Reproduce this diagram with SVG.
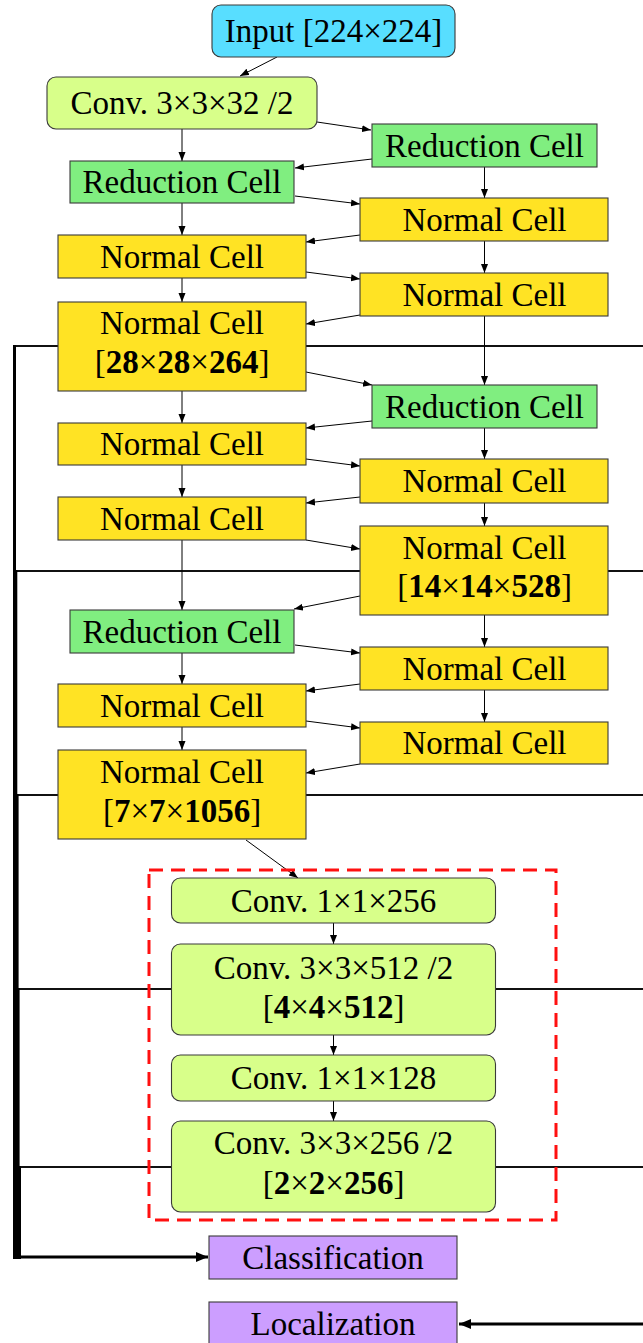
<svg xmlns="http://www.w3.org/2000/svg" width="643" height="1343" viewBox="0 0 643 1343">
  <style>
    .box { stroke: #3a3a3a; stroke-width: 1.1; }
    .inp { fill: #58DEFF; }
    .conv { fill: #D8FF8A; }
    .red { fill: #80EE80; }
    .nrm { fill: #FFE324; }
    .out { fill: #CC9EFF; }
    text { font-family: "Liberation Serif", "Times New Roman", serif; font-size: 33px; fill: #000; text-anchor: middle; }
    .b { font-weight: bold; }
    .edge { stroke: #000; stroke-width: 1; fill: none; marker-end: url(#arr); }
    .feat { stroke: #111; stroke-width: 2; fill: none; }
    .head { stroke: #000; stroke-width: 3.2; fill: none; marker-end: url(#bigarr); }
  </style>
  <defs>
    <marker id="arr" markerUnits="userSpaceOnUse" markerWidth="10" markerHeight="8" refX="9" refY="3.5" orient="auto">
      <path d="M0,0 L9,3.5 L0,7 z" fill="#000"/>
    </marker>
    <marker id="bigarr" markerUnits="userSpaceOnUse" markerWidth="14" markerHeight="12" refX="12" refY="5" orient="auto">
      <path d="M0,0 L12,5 L0,10 z" fill="#000"/>
    </marker>
  </defs>

  <rect width="643" height="1343" fill="#fff"/>

  <g id="connectors">
    <!-- feature-map taps: horizontal runs across the page -->
    <path class="feat" d="M643,346 H14"/>
    <path class="feat" d="M643,571 H15.5"/>
    <path class="feat" d="M643,795 H17"/>
    <path class="feat" d="M643,989 H18.5"/>
    <path class="feat" d="M643,1167 H20"/>
    <!-- bundled taps down the left edge, widening at each join -->
    <path fill="#000" d="M13,345 H16 V570 H17.3 V794 H18.6 V988 H19.6 V1166 H21 V1259 H13 z"/>
    <path class="head" d="M13,1257 H208"/>
    <path class="head" d="M643,1324 H459"/>

    <!-- stem -->
    <path class="edge" d="M277,57 L240,76"/>
    <path class="edge" d="M317,122 L371,130"/>
    <path class="edge" d="M182,129 V161"/>

    <!-- left column -->
    <path class="edge" d="M182,203 V235"/>
    <path class="edge" d="M182,278 V302"/>
    <path class="edge" d="M182,391 V423"/>
    <path class="edge" d="M182,465 V497"/>
    <path class="edge" d="M182,540 V610"/>
    <path class="edge" d="M182,653 V684"/>
    <path class="edge" d="M182,727 V750"/>

    <!-- right column -->
    <path class="edge" d="M484.5,167 V198"/>
    <path class="edge" d="M484.5,241 V273"/>
    <path class="edge" d="M484.5,316 V385"/>
    <path class="edge" d="M484.5,428 V459"/>
    <path class="edge" d="M484.5,503 V526"/>
    <path class="edge" d="M484.5,615 V647"/>
    <path class="edge" d="M484.5,690 V722"/>

    <!-- cross links -->
    <path class="edge" d="M372,159 L295,168"/>
    <path class="edge" d="M295,196 L360,204"/>
    <path class="edge" d="M360,235 L306,242"/>
    <path class="edge" d="M306,272 L360,279"/>
    <path class="edge" d="M360,315 L306,324"/>
    <path class="edge" d="M306,372 L372,385"/>
    <path class="edge" d="M372,421 L306,428"/>
    <path class="edge" d="M306,459 L360,466"/>
    <path class="edge" d="M360,497 L306,503"/>
    <path class="edge" d="M306,540 L360,549"/>
    <path class="edge" d="M360,596 L294,609"/>
    <path class="edge" d="M295,645 L360,653"/>
    <path class="edge" d="M360,684 L306,691"/>
    <path class="edge" d="M306,721 L360,728"/>
    <path class="edge" d="M360,764 L306,773"/>

    <!-- extra layers -->
    <path class="edge" d="M246,840 L298,878"/>
    <path class="edge" d="M333.5,923 V944"/>
    <path class="edge" d="M333.5,1035 V1055"/>
    <path class="edge" d="M333.5,1101 V1121"/>
  </g>

  <rect id="extra-layers-frame" x="149" y="870" width="407" height="350" fill="none" stroke="#FF1010" stroke-width="3" stroke-dasharray="14 8"/>

  <g id="input"><rect class="box inp" x="212" y="5" width="243" height="52" rx="9"/><text x="333.5" y="42">Input [224×224]</text></g>
  <g id="conv0"><rect class="box conv" x="47" y="77" width="270" height="52" rx="9"/><text x="182" y="114">Conv. 3×3×32 /2</text></g>

  <g id="r1"><rect class="box red" x="372" y="124" width="225" height="43"/><text x="484.5" y="157">Reduction Cell</text></g>
  <g id="l1"><rect class="box red" x="70" y="161" width="224" height="42"/><text x="182" y="193">Reduction Cell</text></g>
  <g id="r2"><rect class="box nrm" x="360" y="198" width="248" height="43"/><text x="484.5" y="231">Normal Cell</text></g>
  <g id="l2"><rect class="box nrm" x="58" y="235" width="248" height="43"/><text x="182" y="268">Normal Cell</text></g>
  <g id="r3"><rect class="box nrm" x="360" y="273" width="248" height="43"/><text x="484.5" y="306">Normal Cell</text></g>
  <g id="l3"><rect class="box nrm" x="58" y="302" width="248" height="89"/><text x="182" y="334">Normal Cell</text><text x="182" y="373">[<tspan class="b">28</tspan>×<tspan class="b">28</tspan>×<tspan class="b">264</tspan>]</text></g>

  <g id="r4"><rect class="box red" x="372" y="385" width="225" height="43"/><text x="484.5" y="418">Reduction Cell</text></g>
  <g id="l4"><rect class="box nrm" x="58" y="423" width="248" height="42"/><text x="182" y="455">Normal Cell</text></g>
  <g id="r5"><rect class="box nrm" x="360" y="459" width="248" height="44"/><text x="484.5" y="492">Normal Cell</text></g>
  <g id="l5"><rect class="box nrm" x="58" y="497" width="248" height="43"/><text x="182" y="530">Normal Cell</text></g>
  <g id="r6"><rect class="box nrm" x="360" y="526" width="248" height="89"/><text x="484.5" y="559">Normal Cell</text><text x="484.5" y="597">[<tspan class="b">14</tspan>×<tspan class="b">14</tspan>×<tspan class="b">528</tspan>]</text></g>

  <g id="l6"><rect class="box red" x="70" y="610" width="224" height="43"/><text x="182" y="643">Reduction Cell</text></g>
  <g id="r7"><rect class="box nrm" x="360" y="647" width="248" height="43"/><text x="484.5" y="680">Normal Cell</text></g>
  <g id="l7"><rect class="box nrm" x="58" y="684" width="248" height="43"/><text x="182" y="717">Normal Cell</text></g>
  <g id="r8"><rect class="box nrm" x="360" y="722" width="248" height="42"/><text x="484.5" y="754">Normal Cell</text></g>
  <g id="l8"><rect class="box nrm" x="58" y="750" width="248" height="89"/><text x="182" y="783">Normal Cell</text><text x="182" y="822">[<tspan class="b">7</tspan>×<tspan class="b">7</tspan>×<tspan class="b">1056</tspan>]</text></g>

  <g id="conv1"><rect class="box conv" x="171.5" y="878" width="324" height="45" rx="9"/><text x="333.5" y="912">Conv. 1×1×256</text></g>
  <g id="conv2"><rect class="box conv" x="171.5" y="944" width="324" height="91" rx="9"/><text x="333.5" y="979">Conv. 3×3×512 /2</text><text x="333.5" y="1018">[<tspan class="b">4</tspan>×<tspan class="b">4</tspan>×<tspan class="b">512</tspan>]</text></g>
  <g id="conv3"><rect class="box conv" x="171.5" y="1055" width="324" height="46" rx="9"/><text x="333.5" y="1089">Conv. 1×1×128</text></g>
  <g id="conv4"><rect class="box conv" x="171.5" y="1121" width="324" height="91" rx="9"/><text x="333.5" y="1154">Conv. 3×3×256 /2</text><text x="333.5" y="1194">[<tspan class="b">2</tspan>×<tspan class="b">2</tspan>×<tspan class="b">256</tspan>]</text></g>

  <g id="classification"><rect class="box out" x="209" y="1236" width="248" height="43"/><text x="333" y="1269">Classification</text></g>
  <g id="localization"><rect class="box out" x="209" y="1302" width="248" height="50"/><text x="333" y="1335">Localization</text></g>
</svg>
